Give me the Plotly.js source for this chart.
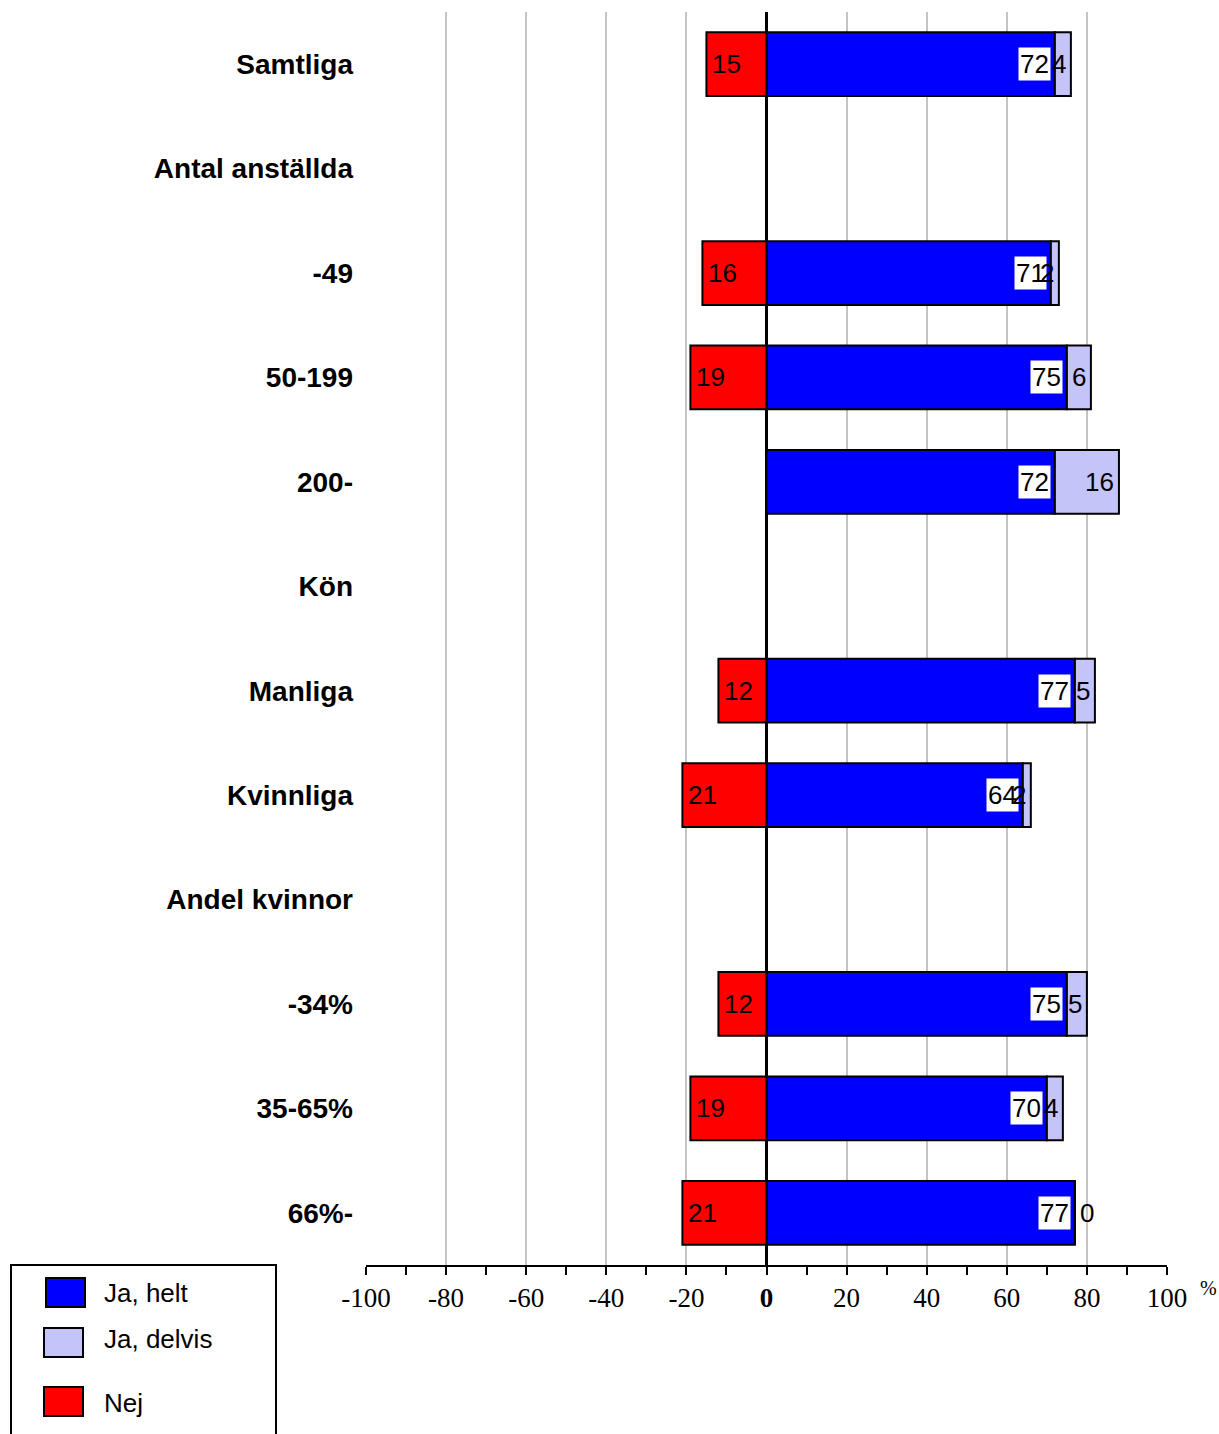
<!DOCTYPE html>
<html>
<head>
<meta charset="utf-8">
<script src="https://cdn.plot.ly/plotly-3.0.1.min.js"></script>
<style>
  html, body { margin: 0; padding: 0; background: #fff; }
  #chart { width: 1219px; height: 1434px; }
</style>
</head>
<body>
<div id="chart"></div>
<script>
// Row labels, top to bottom (group headers have no bars)
const categories = [
  'Samtliga', 'Antal anställda', '-49', '50-199', '200-',
  'Kön', 'Manliga', 'Kvinnliga', 'Andel kvinnor',
  '-34%', '35-65%', '66%-'
];
// Percentages per row
const jaHelt   = [72, null, 71, 75, 72, null, 77, 64, null, 75, 70, 77];
const jaDelvis = [4,  null, 2,  6,  16, null, 5,  2,  null, 5,  4,  0];
const nej      = [15, null, 16, 19, null, null, 12, 21, null, 12, 19, 21];

const seriesNames = ['Ja, helt', 'Ja, delvis', 'Nej'];
const xTickVals = [-100, -80, -60, -40, -20, 0, 20, 40, 60, 80, 100];
const xTickText = ['-100', '-80', '-60', '-40', '-20', '<b>0</b>', '20', '40', '60', '80', '100'];

const COL_HELT = '#0000ff';
const COL_DELVIS = '#c4c4f8';
const COL_NEJ = '#ff0000';

const W = 1219, H = 1434;
const M = { l: 366, r: 52, t: 12, b: 169 };
const plotW = W - M.l - M.r, plotH = H - M.t - M.b;
const px2x = px => (px - M.l) / plotW;
const py2y = py => (H - M.b - py) / plotH;

// rows are placed by index so labels like "-49" stay categorical
const rowIdx = categories.map((c, i) => i);

const barLine = { color: '#000', width: 2 };
const traces = [
  {
    type: 'bar', orientation: 'h', name: seriesNames[0],
    y: rowIdx, x: jaHelt,
    marker: { color: COL_HELT, line: barLine }, width: 0.61, hoverinfo: 'skip'
  },
  {
    type: 'bar', orientation: 'h', name: seriesNames[1],
    y: rowIdx, x: jaDelvis,
    marker: { color: COL_DELVIS, line: barLine }, width: 0.61, hoverinfo: 'skip'
  },
  {
    type: 'bar', orientation: 'h', name: seriesNames[2],
    y: rowIdx, x: nej.map(v => v == null ? null : -v),
    marker: { color: COL_NEJ, line: barLine }, width: 0.61, hoverinfo: 'skip'
  }
];

const numFont = { family: 'Arial, "Liberation Sans", sans-serif', size: 26, color: '#000' };
const annotations = [];

rowIdx.forEach(i => {
  if (nej[i] != null) {
    annotations.push({
      x: -nej[i], y: i, xref: 'x', yref: 'y', text: String(nej[i]),
      showarrow: false, xanchor: 'left', xshift: 4, font: numFont
    });
  }
  if (jaHelt[i] != null) {
    annotations.push({
      x: jaHelt[i], y: i, xref: 'x', yref: 'y', text: String(jaHelt[i]),
      showarrow: false, xanchor: 'right', xshift: -4, bgcolor: '#fff',
      borderpad: 1, font: numFont
    });
  }
  if (jaDelvis[i] != null) {
    const end = jaHelt[i] + jaDelvis[i];
    const zero = jaDelvis[i] === 0;
    annotations.push({
      x: end, y: i, xref: 'x', yref: 'y', text: String(jaDelvis[i]),
      showarrow: false, xanchor: zero ? 'left' : 'right', xshift: zero ? 3 : -3,
      font: numFont
    });
  }
});

// percent sign after the last tick label
annotations.push({
  x: px2x(1208), y: py2y(1288), xref: 'paper', yref: 'paper', text: '%',
  showarrow: false, xanchor: 'center', yanchor: 'middle',
  font: { family: '"Liberation Serif", "Times New Roman", serif', size: 20, color: '#000' }
});

// legend box
const shapes = [
  {
    type: 'rect', xref: 'paper', yref: 'paper',
    x0: px2x(11), x1: px2x(276), y0: py2y(1265), y1: py2y(1445),
    line: { color: '#000', width: 2 }, fillcolor: 'rgba(0,0,0,0)'
  }
];
const legendRows = [
  { name: seriesNames[0], color: COL_HELT, x0: 46, x1: 85, y0: 1278, y1: 1307, ty: 1293 },
  { name: seriesNames[1], color: COL_DELVIS, x0: 44, x1: 83, y0: 1328, y1: 1357, ty: 1339 },
  { name: seriesNames[2], color: COL_NEJ, x0: 44, x1: 83, y0: 1387, y1: 1416, ty: 1403 }
];
legendRows.forEach(r => {
  shapes.push({
    type: 'rect', xref: 'paper', yref: 'paper',
    x0: px2x(r.x0), x1: px2x(r.x1), y0: py2y(r.y1), y1: py2y(r.y0),
    line: { color: '#000', width: 2 }, fillcolor: r.color
  });
  annotations.push({
    x: px2x(102), y: py2y(r.ty), xref: 'paper', yref: 'paper', text: r.name,
    showarrow: false, xanchor: 'left', yanchor: 'middle', font: numFont
  });
});

const layout = {
  width: W, height: H,
  margin: M,
  paper_bgcolor: '#fff', plot_bgcolor: '#fff',
  barmode: 'relative',
  showlegend: false,
  xaxis: {
    range: [-100, 100],
    tickmode: 'array', tickvals: xTickVals, ticktext: xTickText,
    ticks: 'outside', ticklen: 8, tickwidth: 2, tickcolor: '#000',
    tickfont: { family: '"Liberation Serif", "Times New Roman", serif', size: 27, color: '#000' },
    showgrid: true, gridcolor: '#c4c4c4', gridwidth: 2,
    zeroline: true, zerolinecolor: '#000', zerolinewidth: 3,
    showline: true, linecolor: '#000', linewidth: 2,
    minor: { tick0: 0, dtick: 10, ticks: 'outside', ticklen: 8, tickwidth: 2, tickcolor: '#000', showgrid: false },
    fixedrange: true
  },
  yaxis: {
    type: 'linear',
    range: [categories.length - 0.5, -0.5],
    tickmode: 'array', tickvals: rowIdx, ticktext: categories,
    ticks: '', showgrid: false, zeroline: false, showline: false,
    ticklabelstandoff: 12,
    tickfont: { family: 'Arial, "Liberation Sans", sans-serif', size: 28, color: '#000', weight: 'bold' },
    fixedrange: true
  },
  shapes: shapes,
  annotations: annotations
};

Plotly.newPlot('chart', traces, layout, { displayModeBar: false, staticPlot: true });
</script>
</body>
</html>
